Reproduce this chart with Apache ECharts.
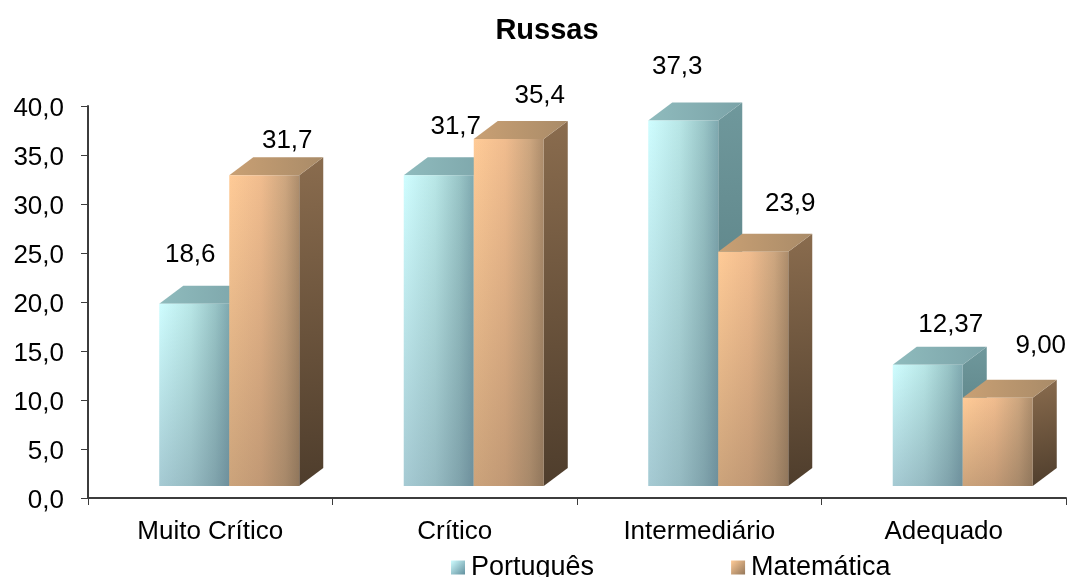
<!DOCTYPE html>
<html><head><meta charset="utf-8">
<style>html,body{margin:0;padding:0;background:#fff}#c{width:1070px;height:577px}</style>
<script src="https://cdn.jsdelivr.net/npm/echarts@6/dist/echarts.min.js"></script>
</head><body><div id="c"></div>
<script>
const categories = ['Muito Crítico', 'Crítico', 'Intermediário', 'Adequado'];
const portugues = [18.6, 31.7, 37.3, 12.37];
const matematica = [31.7, 35.4, 23.9, 9.00];
const portuguesLabels = ['18,6', '31,7', '37,3', '12,37'];
const matematicaLabels = ['31,7', '35,4', '23,9', '9,00'];
const yTicks = {min: 0, max: 40, interval: 5};

// Manually-placed data labels: offset from the top-centre of each bar's front face
const portuguesLabelOffsets = [[-4, -49], [17, -49], [-6, -54], [23, -40]];
const matematicaLabelOffsets = [[23, -35], [31, -43], [37, -48], [43, -52]];

const FONT = '"Liberation Sans", Arial, sans-serif';
const BAR_FRAC = 70 / 244.5, SHIFT = 19, LIFT = 12, DX = 24, DY = 18;

function lg(x2, y2, stops) {
  return {type: 'linear', x: 0, y: 0, x2, y2,
    colorStops: stops.map(s => ({offset: s[0], color: s[1]}))};
}
const palettes = {
  blue: {
    front: lg(1, 0, [[0, '#CFFDFF'], [0.45, '#B8E6E6'], [0.8, '#98C4C6'], [1, '#7FA9B0']]),
    shade: lg(0, 1, [[0, 'rgba(70,85,100,0)'], [1, 'rgba(70,85,110,0.30)']]),
    top: lg(1, 0, [[0, '#8FBBBD'], [1, '#7BA3A8']]),
    side: lg(0, 1, [[0, '#6F989C'], [1, '#4F7478']])
  },
  orange: {
    front: lg(1, 0, [[0, '#FFCB97'], [0.45, '#F0BC8E'], [0.8, '#CDA67F'], [1, '#AD8D6C']]),
    shade: lg(0, 1, [[0, 'rgba(70,60,50,0)'], [1, 'rgba(70,60,50,0.28)']]),
    top: lg(1, 0, [[0, '#C9A074'], [1, '#A98B68']]),
    side: lg(1, 1, [[0, '#8A6C4E'], [1, '#4E3D2C']])
  }
};

function makeRender(pal, side, labels, offsets) {
  return function (params, api) {
    const i = api.value(0);
    const p = api.coord([i, api.value(1)]);
    const base = api.coord([i, 0]);
    const w = api.size([1, 0])[0] * BAR_FRAC;
    const mid = p[0] + SHIFT;
    const x0 = side < 0 ? mid - w : mid;
    const x1 = x0 + w;
    const yt = p[1] - LIFT;
    const yb = base[1] - LIFT;
    const poly = (points, fill) => ({type: 'polygon', shape: {points}, style: {fill}});
    const rect = fill => ({type: 'rect', shape: {x: x0, y: yt, width: w, height: yb - yt}, style: {fill}});
    return {
      type: 'group',
      children: [
        poly([[x1, yb], [x1 + DX, yb - DY], [x1 + DX, yt - DY], [x1, yt]], pal.side),
        poly([[x0, yt], [x0 + DX, yt - DY], [x1 + DX, yt - DY], [x1, yt]], pal.top),
        rect(pal.front),
        rect(pal.shade),
        {type: 'text', z2: 50, style: {
          text: labels[i], x: (x0 + x1) / 2 + offsets[i][0], y: yt + offsets[i][1],
          align: 'center', verticalAlign: 'middle', fill: '#000', font: '26px ' + FONT
        }}
      ]
    };
  };
}

const chart = echarts.init(document.getElementById('c'), null, {renderer: 'canvas'});
chart.setOption({
  animation: false,
  backgroundColor: '#fff',
  title: {
    text: 'Russas', left: 542, top: 11, textAlign: 'center',
    textStyle: {fontFamily: FONT, fontWeight: 'bold', fontSize: 29, color: '#000'}
  },
  legend: {
    left: 446, top: 549, itemWidth: 14, itemHeight: 14, itemGap: 137, icon: 'rect',
    textStyle: {fontFamily: FONT, fontSize: 27, color: '#000', padding: [0, 0, 0, 1]},
    data: ['Português', 'Matemática']
  },
  grid: {left: 88, right: 4, top: 106, bottom: 79, containLabel: false},
  xAxis: {
    type: 'category', data: categories,
    axisLine: {lineStyle: {color: '#3c3c3c', width: 2}},
    axisTick: {show: true, alignWithLabel: false, length: 7, lineStyle: {color: '#3c3c3c', width: 1}},
    axisLabel: {fontFamily: FONT, fontSize: 26, color: '#000', margin: 21, interval: 0}
  },
  yAxis: {
    type: 'value', min: yTicks.min, max: yTicks.max, interval: yTicks.interval,
    splitLine: {show: false},
    axisLine: {show: true, lineStyle: {color: '#3c3c3c', width: 2}},
    axisTick: {show: true, length: 7, lineStyle: {color: '#3c3c3c', width: 1}},
    axisLabel: {color: '#000', margin: 24,
      rich: {t: {fontFamily: FONT, fontSize: 26, color: '#000', padding: [5, 0, 0, 0]}},
      formatter: v => '{t|' + v.toFixed(1).replace('.', ',') + '}'}
  },
  series: [
    {
      name: 'Português', type: 'custom', itemStyle: {color: lg(1, 1, [[0, '#CFFDFF'], [1, '#62909E']])},
      encode: {x: 0, y: 1}, clip: false,
      data: portugues.map((v, i) => [i, v]),
      renderItem: makeRender(palettes.blue, -1, portuguesLabels, portuguesLabelOffsets)
    },
    {
      name: 'Matemática', type: 'custom', itemStyle: {color: lg(1, 1, [[0, '#FFCB97'], [1, '#94775A']])},
      encode: {x: 0, y: 1}, clip: false,
      data: matematica.map((v, i) => [i, v]),
      renderItem: makeRender(palettes.orange, 1, matematicaLabels, matematicaLabelOffsets)
    }
  ]
});
</script></body></html>
